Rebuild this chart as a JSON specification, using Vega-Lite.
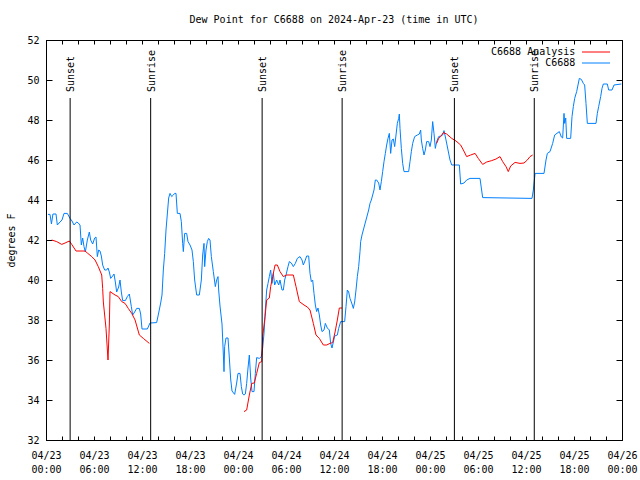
{
"$schema": "https://vega.github.io/schema/vega-lite/v6.json",
"width": 576, "height": 400,
"autosize": {"type": "none"},
"padding": {"left": 46, "top": 40, "right": 18, "bottom": 40},
"background": "white",
"title": {"text": "Dew Point for C6688 on 2024-Apr-23 (time in UTC)", "font": "DejaVu Sans Mono", "fontSize": 10, "fontWeight": "normal", "color": "black", "anchor": "middle", "offset": 10},
"config": {
  "view": {"stroke": "black", "strokeWidth": 1},
  "axis": {"labelFont": "DejaVu Sans Mono", "labelFontSize": 10, "labelColor": "black", "titleFont": "DejaVu Sans Mono", "titleFontSize": 10, "titleFontWeight": "normal", "titleColor": "black", "grid": false, "tickColor": "black", "domainColor": "black", "tickWidth": 1, "domainWidth": 1}
},
"datasets": {
"obs": [
{"time":"2024-04-23T00:15Z","dewpoint":43.28},{"time":"2024-04-23T00:30Z","dewpoint":43.28},{"time":"2024-04-23T00:41Z","dewpoint":42.8},{"time":"2024-04-23T00:52Z","dewpoint":43.3},{"time":"2024-04-23T01:15Z","dewpoint":43.3},{"time":"2024-04-23T01:25Z","dewpoint":42.75},{"time":"2024-04-23T01:45Z","dewpoint":42.9},{"time":"2024-04-23T02:00Z","dewpoint":43.0},{"time":"2024-04-23T02:15Z","dewpoint":43.33},{"time":"2024-04-23T02:40Z","dewpoint":43.33},{"time":"2024-04-23T03:00Z","dewpoint":43.08},{"time":"2024-04-23T03:15Z","dewpoint":42.95},{"time":"2024-04-23T03:30Z","dewpoint":42.75},{"time":"2024-04-23T03:50Z","dewpoint":42.9},{"time":"2024-04-23T04:02Z","dewpoint":42.85},{"time":"2024-04-23T04:15Z","dewpoint":42.75},{"time":"2024-04-23T04:25Z","dewpoint":41.75},{"time":"2024-04-23T04:35Z","dewpoint":42.1},{"time":"2024-04-23T04:45Z","dewpoint":41.67},{"time":"2024-04-23T04:55Z","dewpoint":41.4},{"time":"2024-04-23T05:10Z","dewpoint":42.0},{"time":"2024-04-23T05:25Z","dewpoint":42.4},{"time":"2024-04-23T05:35Z","dewpoint":42.0},{"time":"2024-04-23T05:50Z","dewpoint":41.8},{"time":"2024-04-23T06:05Z","dewpoint":42.1},{"time":"2024-04-23T06:15Z","dewpoint":42.15},{"time":"2024-04-23T06:25Z","dewpoint":41.17},{"time":"2024-04-23T06:35Z","dewpoint":41.5},{"time":"2024-04-23T06:45Z","dewpoint":41.45},{"time":"2024-04-23T06:55Z","dewpoint":41.2},{"time":"2024-04-23T07:05Z","dewpoint":40.75},{"time":"2024-04-23T07:20Z","dewpoint":40.5},{"time":"2024-04-23T07:35Z","dewpoint":40.5},{"time":"2024-04-23T07:45Z","dewpoint":40.6},{"time":"2024-04-23T07:55Z","dewpoint":40.4},{"time":"2024-04-23T08:05Z","dewpoint":40.08},{"time":"2024-04-23T08:20Z","dewpoint":40.2},{"time":"2024-04-23T08:30Z","dewpoint":40.3},{"time":"2024-04-23T08:40Z","dewpoint":39.9},{"time":"2024-04-23T08:50Z","dewpoint":39.4},{"time":"2024-04-23T09:05Z","dewpoint":39.65},{"time":"2024-04-23T09:15Z","dewpoint":40.0},{"time":"2024-04-23T09:25Z","dewpoint":39.4},{"time":"2024-04-23T09:35Z","dewpoint":38.97},{"time":"2024-04-23T09:55Z","dewpoint":38.97},{"time":"2024-04-23T10:10Z","dewpoint":39.17},{"time":"2024-04-23T10:25Z","dewpoint":39.3},{"time":"2024-04-23T10:40Z","dewpoint":38.67},{"time":"2024-04-23T10:50Z","dewpoint":38.25},{"time":"2024-04-23T11:05Z","dewpoint":38.4},{"time":"2024-04-23T11:20Z","dewpoint":38.58},{"time":"2024-04-23T11:40Z","dewpoint":38.58},{"time":"2024-04-23T11:50Z","dewpoint":38.3},{"time":"2024-04-23T12:00Z","dewpoint":37.55},{"time":"2024-04-23T12:40Z","dewpoint":37.55},{"time":"2024-04-23T13:00Z","dewpoint":37.85},{"time":"2024-04-23T13:50Z","dewpoint":37.87},{"time":"2024-04-23T14:05Z","dewpoint":38.35},{"time":"2024-04-23T14:20Z","dewpoint":38.85},{"time":"2024-04-23T14:30Z","dewpoint":39.25},{"time":"2024-04-23T14:40Z","dewpoint":40.5},{"time":"2024-04-23T14:50Z","dewpoint":41.33},{"time":"2024-04-23T15:00Z","dewpoint":42.5},{"time":"2024-04-23T15:10Z","dewpoint":43.3},{"time":"2024-04-23T15:20Z","dewpoint":44.1},{"time":"2024-04-23T15:30Z","dewpoint":44.33},{"time":"2024-04-23T15:43Z","dewpoint":44.17},{"time":"2024-04-23T15:55Z","dewpoint":44.25},{"time":"2024-04-23T16:05Z","dewpoint":44.33},{"time":"2024-04-23T16:15Z","dewpoint":44.33},{"time":"2024-04-23T16:25Z","dewpoint":43.33},{"time":"2024-04-23T16:45Z","dewpoint":43.33},{"time":"2024-04-23T16:55Z","dewpoint":42.92},{"time":"2024-04-23T17:05Z","dewpoint":41.83},{"time":"2024-04-23T17:10Z","dewpoint":41.42},{"time":"2024-04-23T17:20Z","dewpoint":42.33},{"time":"2024-04-23T17:35Z","dewpoint":42.33},{"time":"2024-04-23T17:45Z","dewpoint":41.92},{"time":"2024-04-23T18:00Z","dewpoint":41.75},{"time":"2024-04-23T18:15Z","dewpoint":41.5},{"time":"2024-04-23T18:25Z","dewpoint":40.92},{"time":"2024-04-23T18:35Z","dewpoint":40.0},{"time":"2024-04-23T18:50Z","dewpoint":39.25},{"time":"2024-04-23T19:10Z","dewpoint":39.25},{"time":"2024-04-23T19:25Z","dewpoint":40.0},{"time":"2024-04-23T19:35Z","dewpoint":41.25},{"time":"2024-04-23T19:45Z","dewpoint":41.83},{"time":"2024-04-23T19:50Z","dewpoint":40.67},{"time":"2024-04-23T20:00Z","dewpoint":41.5},{"time":"2024-04-23T20:10Z","dewpoint":41.92},{"time":"2024-04-23T20:20Z","dewpoint":42.08},{"time":"2024-04-23T20:30Z","dewpoint":42.0},{"time":"2024-04-23T20:40Z","dewpoint":41.17},{"time":"2024-04-23T20:55Z","dewpoint":40.42},{"time":"2024-04-23T21:10Z","dewpoint":39.67},{"time":"2024-04-23T21:20Z","dewpoint":40.0},{"time":"2024-04-23T21:30Z","dewpoint":40.17},{"time":"2024-04-23T21:35Z","dewpoint":39.5},{"time":"2024-04-23T21:45Z","dewpoint":38.7},{"time":"2024-04-23T22:00Z","dewpoint":37.8},{"time":"2024-04-23T22:10Z","dewpoint":36.3},{"time":"2024-04-23T22:15Z","dewpoint":35.42},{"time":"2024-04-23T22:20Z","dewpoint":36.67},{"time":"2024-04-23T22:30Z","dewpoint":37.1},{"time":"2024-04-23T22:45Z","dewpoint":37.1},{"time":"2024-04-23T22:55Z","dewpoint":36.1},{"time":"2024-04-23T23:05Z","dewpoint":35.05},{"time":"2024-04-23T23:15Z","dewpoint":34.45},{"time":"2024-04-23T23:35Z","dewpoint":34.28},{"time":"2024-04-23T23:50Z","dewpoint":34.85},
{"time":"2024-04-24T00:00Z","dewpoint":35.33},{"time":"2024-04-24T00:15Z","dewpoint":35.33},{"time":"2024-04-24T00:25Z","dewpoint":34.67},{"time":"2024-04-24T00:35Z","dewpoint":34.3},{"time":"2024-04-24T00:45Z","dewpoint":34.25},{"time":"2024-04-24T00:55Z","dewpoint":34.3},{"time":"2024-04-24T01:05Z","dewpoint":34.83},{"time":"2024-04-24T01:15Z","dewpoint":35.6},{"time":"2024-04-24T01:25Z","dewpoint":36.25},{"time":"2024-04-24T01:35Z","dewpoint":35.1},{"time":"2024-04-24T01:45Z","dewpoint":34.42},{"time":"2024-04-24T02:00Z","dewpoint":34.42},{"time":"2024-04-24T02:10Z","dewpoint":35.33},{"time":"2024-04-24T02:20Z","dewpoint":36.12},{"time":"2024-04-24T02:40Z","dewpoint":36.08},{"time":"2024-04-24T02:55Z","dewpoint":36.17},{"time":"2024-04-24T03:05Z","dewpoint":36.6},{"time":"2024-04-24T03:15Z","dewpoint":37.33},{"time":"2024-04-24T03:25Z","dewpoint":38.5},{"time":"2024-04-24T03:35Z","dewpoint":39.5},{"time":"2024-04-24T03:45Z","dewpoint":39.83},{"time":"2024-04-24T03:55Z","dewpoint":40.17},{"time":"2024-04-24T04:05Z","dewpoint":40.5},{"time":"2024-04-24T04:15Z","dewpoint":39.83},{"time":"2024-04-24T04:25Z","dewpoint":40.33},{"time":"2024-04-24T04:35Z","dewpoint":39.75},{"time":"2024-04-24T04:50Z","dewpoint":40.0},{"time":"2024-04-24T05:05Z","dewpoint":39.75},{"time":"2024-04-24T05:15Z","dewpoint":40.0},{"time":"2024-04-24T05:30Z","dewpoint":39.5},{"time":"2024-04-24T05:40Z","dewpoint":39.5},{"time":"2024-04-24T05:50Z","dewpoint":40.0},{"time":"2024-04-24T06:00Z","dewpoint":40.25},{"time":"2024-04-24T06:15Z","dewpoint":40.67},{"time":"2024-04-24T06:25Z","dewpoint":40.92},{"time":"2024-04-24T06:40Z","dewpoint":40.85},{"time":"2024-04-24T06:55Z","dewpoint":40.67},{"time":"2024-04-24T07:10Z","dewpoint":40.83},{"time":"2024-04-24T07:25Z","dewpoint":41.08},{"time":"2024-04-24T07:45Z","dewpoint":41.17},{"time":"2024-04-24T08:00Z","dewpoint":41.0},{"time":"2024-04-24T08:10Z","dewpoint":40.75},{"time":"2024-04-24T08:25Z","dewpoint":41.0},{"time":"2024-04-24T08:35Z","dewpoint":41.2},{"time":"2024-04-24T08:50Z","dewpoint":41.2},{"time":"2024-04-24T09:00Z","dewpoint":40.33},{"time":"2024-04-24T09:10Z","dewpoint":39.92},{"time":"2024-04-24T09:20Z","dewpoint":40.0},{"time":"2024-04-24T09:30Z","dewpoint":39.33},{"time":"2024-04-24T09:40Z","dewpoint":38.75},{"time":"2024-04-24T09:50Z","dewpoint":38.42},{"time":"2024-04-24T10:00Z","dewpoint":38.6},{"time":"2024-04-24T10:10Z","dewpoint":38.25},{"time":"2024-04-24T10:20Z","dewpoint":37.75},{"time":"2024-04-24T10:30Z","dewpoint":37.42},{"time":"2024-04-24T10:45Z","dewpoint":37.5},{"time":"2024-04-24T10:55Z","dewpoint":37.83},{"time":"2024-04-24T11:10Z","dewpoint":37.6},{"time":"2024-04-24T11:25Z","dewpoint":37.5},{"time":"2024-04-24T11:35Z","dewpoint":36.83},{"time":"2024-04-24T11:45Z","dewpoint":36.6},{"time":"2024-04-24T11:55Z","dewpoint":36.9},{"time":"2024-04-24T12:05Z","dewpoint":37.2},{"time":"2024-04-24T12:25Z","dewpoint":37.25},{"time":"2024-04-24T12:35Z","dewpoint":37.58},{"time":"2024-04-24T12:50Z","dewpoint":37.92},{"time":"2024-04-24T13:20Z","dewpoint":37.92},{"time":"2024-04-24T13:30Z","dewpoint":38.67},{"time":"2024-04-24T13:40Z","dewpoint":39.5},{"time":"2024-04-24T13:50Z","dewpoint":39.4},{"time":"2024-04-24T14:00Z","dewpoint":39.08},{"time":"2024-04-24T14:15Z","dewpoint":38.8},{"time":"2024-04-24T14:25Z","dewpoint":38.58},{"time":"2024-04-24T14:35Z","dewpoint":38.9},{"time":"2024-04-24T14:45Z","dewpoint":39.5},{"time":"2024-04-24T14:55Z","dewpoint":40.17},{"time":"2024-04-24T15:05Z","dewpoint":40.67},{"time":"2024-04-24T15:15Z","dewpoint":41.42},{"time":"2024-04-24T15:20Z","dewpoint":41.92},{"time":"2024-04-24T15:30Z","dewpoint":42.25},{"time":"2024-04-24T15:40Z","dewpoint":42.5},{"time":"2024-04-24T15:50Z","dewpoint":42.75},{"time":"2024-04-24T16:00Z","dewpoint":43.0},{"time":"2024-04-24T16:10Z","dewpoint":43.25},{"time":"2024-04-24T16:20Z","dewpoint":43.5},{"time":"2024-04-24T16:30Z","dewpoint":43.83},{"time":"2024-04-24T16:40Z","dewpoint":44.0},{"time":"2024-04-24T16:50Z","dewpoint":44.25},{"time":"2024-04-24T17:00Z","dewpoint":44.5},{"time":"2024-04-24T17:10Z","dewpoint":45.0},{"time":"2024-04-24T17:20Z","dewpoint":45.0},{"time":"2024-04-24T17:35Z","dewpoint":44.85},{"time":"2024-04-24T17:45Z","dewpoint":44.5},{"time":"2024-04-24T17:55Z","dewpoint":44.92},{"time":"2024-04-24T18:05Z","dewpoint":45.42},{"time":"2024-04-24T18:15Z","dewpoint":45.92},{"time":"2024-04-24T18:25Z","dewpoint":46.33},{"time":"2024-04-24T18:35Z","dewpoint":46.75},{"time":"2024-04-24T18:45Z","dewpoint":47.08},{"time":"2024-04-24T18:55Z","dewpoint":47.33},{"time":"2024-04-24T19:05Z","dewpoint":46.33},{"time":"2024-04-24T19:15Z","dewpoint":47.0},{"time":"2024-04-24T19:25Z","dewpoint":47.05},{"time":"2024-04-24T19:35Z","dewpoint":46.67},{"time":"2024-04-24T19:45Z","dewpoint":47.25},{"time":"2024-04-24T19:55Z","dewpoint":47.83},{"time":"2024-04-24T20:05Z","dewpoint":48.08},{"time":"2024-04-24T20:10Z","dewpoint":48.3},{"time":"2024-04-24T20:15Z","dewpoint":47.58},{"time":"2024-04-24T20:25Z","dewpoint":46.58},{"time":"2024-04-24T20:35Z","dewpoint":45.83},{"time":"2024-04-24T20:45Z","dewpoint":45.42},{"time":"2024-04-24T21:20Z","dewpoint":45.42},{"time":"2024-04-24T21:30Z","dewpoint":45.92},{"time":"2024-04-24T21:40Z","dewpoint":46.42},{"time":"2024-04-24T21:50Z","dewpoint":46.83},{"time":"2024-04-24T22:05Z","dewpoint":47.17},{"time":"2024-04-24T22:25Z","dewpoint":47.25},{"time":"2024-04-24T22:40Z","dewpoint":47.3},{"time":"2024-04-24T22:50Z","dewpoint":47.5},{"time":"2024-04-24T22:55Z","dewpoint":47.0},{"time":"2024-04-24T23:05Z","dewpoint":46.58},{"time":"2024-04-24T23:15Z","dewpoint":46.25},{"time":"2024-04-24T23:25Z","dewpoint":46.5},{"time":"2024-04-24T23:35Z","dewpoint":46.92},{"time":"2024-04-24T23:50Z","dewpoint":46.92},
{"time":"2024-04-25T00:00Z","dewpoint":46.67},{"time":"2024-04-25T00:10Z","dewpoint":47.0},{"time":"2024-04-25T00:20Z","dewpoint":47.92},{"time":"2024-04-25T00:30Z","dewpoint":47.33},{"time":"2024-04-25T00:40Z","dewpoint":46.58},{"time":"2024-04-25T00:50Z","dewpoint":46.92},{"time":"2024-04-25T01:05Z","dewpoint":47.17},{"time":"2024-04-25T01:20Z","dewpoint":47.2},{"time":"2024-04-25T01:35Z","dewpoint":47.25},{"time":"2024-04-25T01:45Z","dewpoint":47.47},{"time":"2024-04-25T02:00Z","dewpoint":47.0},{"time":"2024-04-25T02:15Z","dewpoint":46.5},{"time":"2024-04-25T02:30Z","dewpoint":46.0},{"time":"2024-04-25T02:43Z","dewpoint":45.75},{"time":"2024-04-25T03:40Z","dewpoint":45.75},{"time":"2024-04-25T03:50Z","dewpoint":44.8},{"time":"2024-04-25T04:15Z","dewpoint":44.85},{"time":"2024-04-25T04:35Z","dewpoint":45.0},{"time":"2024-04-25T05:00Z","dewpoint":45.08},{"time":"2024-04-25T06:15Z","dewpoint":45.08},{"time":"2024-04-25T06:25Z","dewpoint":44.6},{"time":"2024-04-25T06:35Z","dewpoint":44.12},{"time":"2024-04-25T12:45Z","dewpoint":44.08},{"time":"2024-04-25T12:55Z","dewpoint":44.5},{"time":"2024-04-25T13:08Z","dewpoint":45.33},{"time":"2024-04-25T14:15Z","dewpoint":45.33},{"time":"2024-04-25T14:30Z","dewpoint":46.0},{"time":"2024-04-25T14:40Z","dewpoint":46.33},{"time":"2024-04-25T15:00Z","dewpoint":46.42},{"time":"2024-04-25T15:20Z","dewpoint":46.83},{"time":"2024-04-25T15:35Z","dewpoint":47.25},{"time":"2024-04-25T16:10Z","dewpoint":47.42},{"time":"2024-04-25T16:25Z","dewpoint":47.15},{"time":"2024-04-25T16:35Z","dewpoint":47.1},{"time":"2024-04-25T16:45Z","dewpoint":48.33},{"time":"2024-04-25T16:50Z","dewpoint":47.83},{"time":"2024-04-25T16:58Z","dewpoint":48.1},{"time":"2024-04-25T17:05Z","dewpoint":47.08},{"time":"2024-04-25T17:35Z","dewpoint":47.08},{"time":"2024-04-25T17:45Z","dewpoint":48.17},{"time":"2024-04-25T17:55Z","dewpoint":48.67},{"time":"2024-04-25T18:05Z","dewpoint":49.08},{"time":"2024-04-25T18:20Z","dewpoint":49.42},{"time":"2024-04-25T18:30Z","dewpoint":49.75},{"time":"2024-04-25T18:40Z","dewpoint":50.08},{"time":"2024-04-25T18:55Z","dewpoint":50.03},{"time":"2024-04-25T19:10Z","dewpoint":49.83},{"time":"2024-04-25T19:20Z","dewpoint":49.75},{"time":"2024-04-25T19:30Z","dewpoint":48.83},{"time":"2024-04-25T19:40Z","dewpoint":47.83},{"time":"2024-04-25T20:45Z","dewpoint":47.83},{"time":"2024-04-25T20:55Z","dewpoint":48.33},{"time":"2024-04-25T21:05Z","dewpoint":48.67},{"time":"2024-04-25T21:20Z","dewpoint":49.17},{"time":"2024-04-25T21:30Z","dewpoint":49.58},{"time":"2024-04-25T21:40Z","dewpoint":49.8},{"time":"2024-04-25T22:10Z","dewpoint":49.8},{"time":"2024-04-25T22:20Z","dewpoint":49.5},{"time":"2024-04-25T22:45Z","dewpoint":49.5},{"time":"2024-04-25T23:00Z","dewpoint":49.75},{"time":"2024-04-25T23:55Z","dewpoint":49.8}
],
"analysis": [
{"segment":1,"time":"2024-04-23T00:43Z","dewpoint":42.0},{"segment":1,"time":"2024-04-23T01:20Z","dewpoint":41.92},{"segment":1,"time":"2024-04-23T01:58Z","dewpoint":41.78},{"segment":1,"time":"2024-04-23T02:23Z","dewpoint":41.85},{"segment":1,"time":"2024-04-23T02:55Z","dewpoint":41.95},{"segment":1,"time":"2024-04-23T03:13Z","dewpoint":41.78},{"segment":1,"time":"2024-04-23T03:45Z","dewpoint":41.45},{"segment":1,"time":"2024-04-23T04:53Z","dewpoint":41.45},{"segment":1,"time":"2024-04-23T05:10Z","dewpoint":41.35},{"segment":1,"time":"2024-04-23T05:43Z","dewpoint":41.17},{"segment":1,"time":"2024-04-23T06:08Z","dewpoint":41.0},{"segment":1,"time":"2024-04-23T06:32Z","dewpoint":40.67},{"segment":1,"time":"2024-04-23T06:58Z","dewpoint":40.25},{"segment":1,"time":"2024-04-23T07:05Z","dewpoint":39.58},{"segment":1,"time":"2024-04-23T07:10Z","dewpoint":38.9},{"segment":1,"time":"2024-04-23T07:30Z","dewpoint":37.58},{"segment":1,"time":"2024-04-23T07:45Z","dewpoint":36.0},{"segment":1,"time":"2024-04-23T07:55Z","dewpoint":37.75},{"segment":1,"time":"2024-04-23T08:00Z","dewpoint":39.42},{"segment":1,"time":"2024-04-23T08:38Z","dewpoint":39.25},{"segment":1,"time":"2024-04-23T09:02Z","dewpoint":39.17},{"segment":1,"time":"2024-04-23T09:28Z","dewpoint":38.92},{"segment":1,"time":"2024-04-23T09:53Z","dewpoint":38.83},{"segment":1,"time":"2024-04-23T10:17Z","dewpoint":38.58},{"segment":1,"time":"2024-04-23T10:43Z","dewpoint":38.33},{"segment":1,"time":"2024-04-23T11:08Z","dewpoint":38.0},{"segment":1,"time":"2024-04-23T11:40Z","dewpoint":37.25},{"segment":1,"time":"2024-04-23T12:10Z","dewpoint":37.08},{"segment":1,"time":"2024-04-23T12:55Z","dewpoint":36.83},
{"segment":2,"time":"2024-04-24T00:45Z","dewpoint":33.42},{"segment":2,"time":"2024-04-24T01:05Z","dewpoint":33.5},{"segment":2,"time":"2024-04-24T01:25Z","dewpoint":34.25},{"segment":2,"time":"2024-04-24T01:43Z","dewpoint":34.83},{"segment":2,"time":"2024-04-24T02:02Z","dewpoint":34.85},{"segment":2,"time":"2024-04-24T02:20Z","dewpoint":35.33},{"segment":2,"time":"2024-04-24T02:40Z","dewpoint":35.87},{"segment":2,"time":"2024-04-24T02:58Z","dewpoint":35.92},{"segment":2,"time":"2024-04-24T03:05Z","dewpoint":37.17},{"segment":2,"time":"2024-04-24T03:23Z","dewpoint":38.17},{"segment":2,"time":"2024-04-24T03:35Z","dewpoint":39.0},{"segment":2,"time":"2024-04-24T03:55Z","dewpoint":39.1},{"segment":2,"time":"2024-04-24T04:05Z","dewpoint":39.67},{"segment":2,"time":"2024-04-24T04:20Z","dewpoint":40.17},{"segment":2,"time":"2024-04-24T04:38Z","dewpoint":40.75},{"segment":2,"time":"2024-04-24T04:55Z","dewpoint":40.75},{"segment":2,"time":"2024-04-24T05:15Z","dewpoint":40.42},{"segment":2,"time":"2024-04-24T05:40Z","dewpoint":40.17},{"segment":2,"time":"2024-04-24T06:05Z","dewpoint":40.25},{"segment":2,"time":"2024-04-24T06:55Z","dewpoint":40.25},{"segment":2,"time":"2024-04-24T07:15Z","dewpoint":39.67},{"segment":2,"time":"2024-04-24T07:40Z","dewpoint":38.92},{"segment":2,"time":"2024-04-24T08:15Z","dewpoint":38.75},{"segment":2,"time":"2024-04-24T08:40Z","dewpoint":38.65},{"segment":2,"time":"2024-04-24T09:00Z","dewpoint":38.5},{"segment":2,"time":"2024-04-24T09:25Z","dewpoint":37.83},{"segment":2,"time":"2024-04-24T09:45Z","dewpoint":37.25},{"segment":2,"time":"2024-04-24T10:10Z","dewpoint":37.08},{"segment":2,"time":"2024-04-24T10:40Z","dewpoint":36.75},{"segment":2,"time":"2024-04-24T11:05Z","dewpoint":36.75},{"segment":2,"time":"2024-04-24T11:30Z","dewpoint":36.83},{"segment":2,"time":"2024-04-24T11:50Z","dewpoint":36.87},{"segment":2,"time":"2024-04-24T12:08Z","dewpoint":37.4},{"segment":2,"time":"2024-04-24T12:25Z","dewpoint":38.0},{"segment":2,"time":"2024-04-24T12:40Z","dewpoint":38.6},{"segment":2,"time":"2024-04-24T13:00Z","dewpoint":38.6},
{"segment":3,"time":"2024-04-25T00:50Z","dewpoint":46.83},{"segment":3,"time":"2024-04-25T01:05Z","dewpoint":47.08},{"segment":3,"time":"2024-04-25T01:20Z","dewpoint":47.17},{"segment":3,"time":"2024-04-25T01:40Z","dewpoint":47.37},{"segment":3,"time":"2024-04-25T02:05Z","dewpoint":47.3},{"segment":3,"time":"2024-04-25T02:43Z","dewpoint":47.08},{"segment":3,"time":"2024-04-25T03:15Z","dewpoint":46.95},{"segment":3,"time":"2024-04-25T03:50Z","dewpoint":46.75},{"segment":3,"time":"2024-04-25T04:10Z","dewpoint":46.5},{"segment":3,"time":"2024-04-25T04:35Z","dewpoint":46.17},{"segment":3,"time":"2024-04-25T05:05Z","dewpoint":46.25},{"segment":3,"time":"2024-04-25T05:38Z","dewpoint":46.33},{"segment":3,"time":"2024-04-25T06:02Z","dewpoint":46.08},{"segment":3,"time":"2024-04-25T06:35Z","dewpoint":45.78},{"segment":3,"time":"2024-04-25T07:05Z","dewpoint":45.9},{"segment":3,"time":"2024-04-25T07:43Z","dewpoint":45.97},{"segment":3,"time":"2024-04-25T08:15Z","dewpoint":46.05},{"segment":3,"time":"2024-04-25T08:45Z","dewpoint":46.17},{"segment":3,"time":"2024-04-25T09:05Z","dewpoint":45.92},{"segment":3,"time":"2024-04-25T09:30Z","dewpoint":45.67},{"segment":3,"time":"2024-04-25T09:47Z","dewpoint":45.42},{"segment":3,"time":"2024-04-25T10:05Z","dewpoint":45.7},{"segment":3,"time":"2024-04-25T10:38Z","dewpoint":45.88},{"segment":3,"time":"2024-04-25T11:15Z","dewpoint":45.83},{"segment":3,"time":"2024-04-25T11:45Z","dewpoint":45.85},{"segment":3,"time":"2024-04-25T12:10Z","dewpoint":46.0},{"segment":3,"time":"2024-04-25T12:30Z","dewpoint":46.17},{"segment":3,"time":"2024-04-25T12:50Z","dewpoint":46.25}
],
"sun": [
{"event":"Sunset","time":"2024-04-23T03:01Z"},{"event":"Sunrise","time":"2024-04-23T13:05Z"},{"event":"Sunset","time":"2024-04-24T03:01Z"},{"event":"Sunrise","time":"2024-04-24T13:01Z"},{"event":"Sunset","time":"2024-04-25T03:03Z"},{"event":"Sunrise","time":"2024-04-25T13:02Z"}
]
},
"layer": [
{
  "data": {"name": "obs"},
  "mark": {"type": "line", "strokeWidth": 1, "clip": true},
  "encoding": {
    "x": {"field": "time", "type": "temporal",
      "scale": {"type": "utc", "domain": [1713830400000, 1714089600000], "nice": false},
      "axis": {"orient": "bottom", "title": null,
        "values": [1713830400000,1713837600000,1713844800000,1713852000000,1713859200000,1713866400000,1713873600000,1713880800000,1713888000000,1713895200000,1713902400000,1713909600000,1713916800000,1713924000000,1713931200000,1713938400000,1713945600000,1713952800000,1713960000000,1713967200000,1713974400000,1713981600000,1713988800000,1713996000000,1714003200000,1714010400000,1714017600000,1714024800000,1714032000000,1714039200000,1714046400000,1714053600000,1714060800000,1714068000000,1714075200000,1714082400000,1714089600000],
        "tickSize": -4, "labelPadding": 14, "labelBaseline": "top", "labelLineHeight": 14, "labelOverlap": false, "labelFlush": false, "labelBound": false,
        "labelExpr": "utchours(datum.value) % 6 == 0 ? [utcFormat(datum.value, '%m/%d'), utcFormat(datum.value, '%H:%M')] : ''"}},
    "y": {"field": "dewpoint", "type": "quantitative",
      "scale": {"domain": [32, 52], "nice": false, "zero": false},
      "axis": {"orient": "left", "title": "degrees F", "values": [32, 34, 36, 38, 40, 42, 44, 46, 48, 50, 52], "tickSize": -6, "labelPadding": 13, "titlePadding": 10}},
    "color": {"datum": "C6688", "type": "nominal",
      "scale": {"domain": ["C6688 Analysis", "C6688"], "range": ["#ff0000", "#0080ff"]},
      "legend": {"orient": "none", "legendX": 545, "legendY": 7, "title": null, "symbolType": "M-3.5,0H3.5", "symbolSize": 64, "symbolStrokeWidth": 1, "labelAlign": "right", "labelOffset": -25.7, "labelFont": "DejaVu Sans Mono", "labelFontSize": 10, "labelColor": "black", "rowPadding": 1, "padding": 0}}
  }
},
{
  "data": {"name": "analysis"},
  "mark": {"type": "line", "strokeWidth": 1, "clip": true},
  "encoding": {
    "x": {"field": "time", "type": "temporal",
      "axis": {"orient": "top", "title": null, "labels": false,
        "values": [1713830400000,1713837600000,1713844800000,1713852000000,1713859200000,1713866400000,1713873600000,1713880800000,1713888000000,1713895200000,1713902400000,1713909600000,1713916800000,1713924000000,1713931200000,1713938400000,1713945600000,1713952800000,1713960000000,1713967200000,1713974400000,1713981600000,1713988800000,1713996000000,1714003200000,1714010400000,1714017600000,1714024800000,1714032000000,1714039200000,1714046400000,1714053600000,1714060800000,1714068000000,1714075200000,1714082400000,1714089600000],
        "tickSize": -4}},
    "y": {"field": "dewpoint", "type": "quantitative",
      "axis": {"orient": "right", "title": null, "labels": false, "values": [32, 34, 36, 38, 40, 42, 44, 46, 48, 50, 52], "tickSize": -6}},
    "color": {"datum": "C6688 Analysis", "type": "nominal"},
    "detail": {"field": "segment", "type": "nominal"}
  }
},
{
  "data": {"name": "sun"},
  "mark": {"type": "rule", "color": "black", "strokeWidth": 1},
  "encoding": {
    "x": {"field": "time", "type": "temporal", "axis": null},
    "y": {"datum": 49.1, "type": "quantitative", "axis": null},
    "y2": {"datum": 32}
  }
},
{
  "data": {"name": "sun"},
  "mark": {"type": "text", "angle": 270, "align": "left", "baseline": "middle", "font": "DejaVu Sans Mono", "fontSize": 10, "color": "black", "dy": 1},
  "encoding": {
    "x": {"field": "time", "type": "temporal", "axis": null},
    "y": {"datum": 49.4, "type": "quantitative", "axis": null},
    "text": {"field": "event"}
  }
}
],
"resolve": {"axis": {"x": "independent", "y": "independent"}}
}
